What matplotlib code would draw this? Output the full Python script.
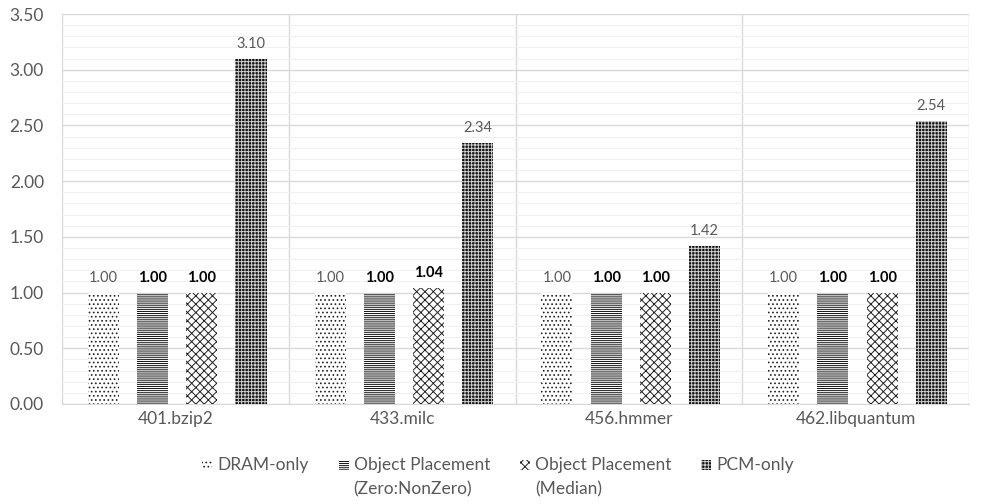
import matplotlib
matplotlib.use("Agg")
import matplotlib.pyplot as plt
import numpy as np
from matplotlib.ticker import MultipleLocator
from matplotlib.patches import Rectangle

plt.rcParams['font.family'] = ['Lato', 'DejaVu Sans']
plt.rcParams['hatch.linewidth'] = 0.7

categories = ["401.bzip2", "433.milc", "456.hmmer", "462.libquantum"]
series_names = ["DRAM-only", "Object Placement\n(Zero:NonZero)",
                "Object Placement\n(Median)", "PCM-only"]
dram_only = [1.00, 1.00, 1.00, 1.00]
zero_nonzero = [1.00, 1.00, 1.00, 1.00]
median = [1.00, 1.04, 1.00, 1.00]
pcm_only = [3.10, 2.34, 1.42, 2.54]
yticks = [0.0, 0.5, 1.0, 1.5, 2.0, 2.5, 3.0, 3.5]

series = [dram_only, zero_nonzero, median, pcm_only]
styles = [
    dict(facecolor='white', edgecolor='#222222', hatch='....'),
    dict(facecolor='white', edgecolor='#111111', hatch='--------'),
    dict(facecolor='white', edgecolor='#222222', hatch='xxxx'),
    dict(facecolor='#111111', edgecolor='#cfcfcf', hatch='+++++'),
]
label_fmt = [
    dict(color='#595959', fontweight='normal'),
    dict(color='black', fontweight='bold'),
    dict(color='black', fontweight='bold'),
    dict(color='#595959', fontweight='normal'),
]

W, H = 981, 504
fig = plt.figure(figsize=(W / 100, H / 100), dpi=100)
ax = fig.add_axes([62 / W, 1 - 404 / H, (969 - 62) / W, (404 - 14) / H])

x = np.arange(len(categories))
width = 0.137
step = 0.217
offsets = (np.arange(4) - 1.5) * step + 0.008

for i, (vals, st, lf) in enumerate(zip(series, styles, label_fmt)):
    ax.bar(x + offsets[i], vals, width, linewidth=0, zorder=3, **st)
    for xi, v in zip(x + offsets[i], vals):
        ax.text(xi, v + 0.07, f"{v:.2f}", ha='center', va='bottom',
                fontsize=10.5, zorder=4, **lf)

ax.set_xlim(-0.5, len(categories) - 0.5)
ax.set_ylim(0, 3.5)
ax.set_yticks(yticks)
ax.set_yticklabels([f"{t:.2f}" for t in yticks])
ax.yaxis.set_minor_locator(MultipleLocator(0.1))
ax.set_xticks(x)
ax.set_xticklabels(categories)

ax.grid(axis='y', which='major', color='#d9d9d9', linewidth=1.0, zorder=0)
ax.grid(axis='y', which='minor', color='#f0f0f0', linewidth=0.8, zorder=0)
for b in np.arange(-0.5, len(categories) + 0.5, 1.0):
    ax.axvline(b, color='#d9d9d9', linewidth=1.0, zorder=1)

for s in ['top', 'right', 'left']:
    ax.spines[s].set_visible(False)
ax.spines['bottom'].set_color('#d9d9d9')
ax.tick_params(axis='both', which='both', length=0, labelsize=12.5,
               labelcolor='#595959')
ax.tick_params(axis='y', pad=13)
ax.tick_params(axis='x', pad=5)

# Legend drawn below the plot: swatch + (possibly two-line) label per series
fig.canvas.draw()
renderer = fig.canvas.get_renderer()
legend_fs = 12.5
sw = 10          # swatch size, px
gap_sw = 5       # swatch to text, px
gap_col = 30     # between entries, px
line1_y = 465    # px from top
line2_y = 489

entries = []
for name in series_names:
    lines = name.split("\n")
    widths = []
    for ln in lines:
        t = fig.text(0, 0, ln, fontsize=legend_fs)
        widths.append(t.get_window_extent(renderer).width)
        t.remove()
    entries.append((lines, max(widths)))

total = sum(sw + gap_sw + w for _, w in entries) + gap_col * (len(entries) - 1)
cur = 498 - total / 2
for (lines, w), st in zip(entries, styles):
    fig.add_artist(Rectangle((cur / W, 1 - (line1_y + sw / 2) / H), sw / W, sw / H,
                             transform=fig.transFigure, linewidth=0, **st))
    tx = cur + sw + gap_sw
    for ln, ly in zip(lines, [line1_y, line2_y]):
        fig.text(tx / W, 1 - ly / H, ln, fontsize=legend_fs, color='#595959',
                 ha='left', va='center')
    cur = tx + w + gap_col

fig.savefig("out.png", dpi=100)
